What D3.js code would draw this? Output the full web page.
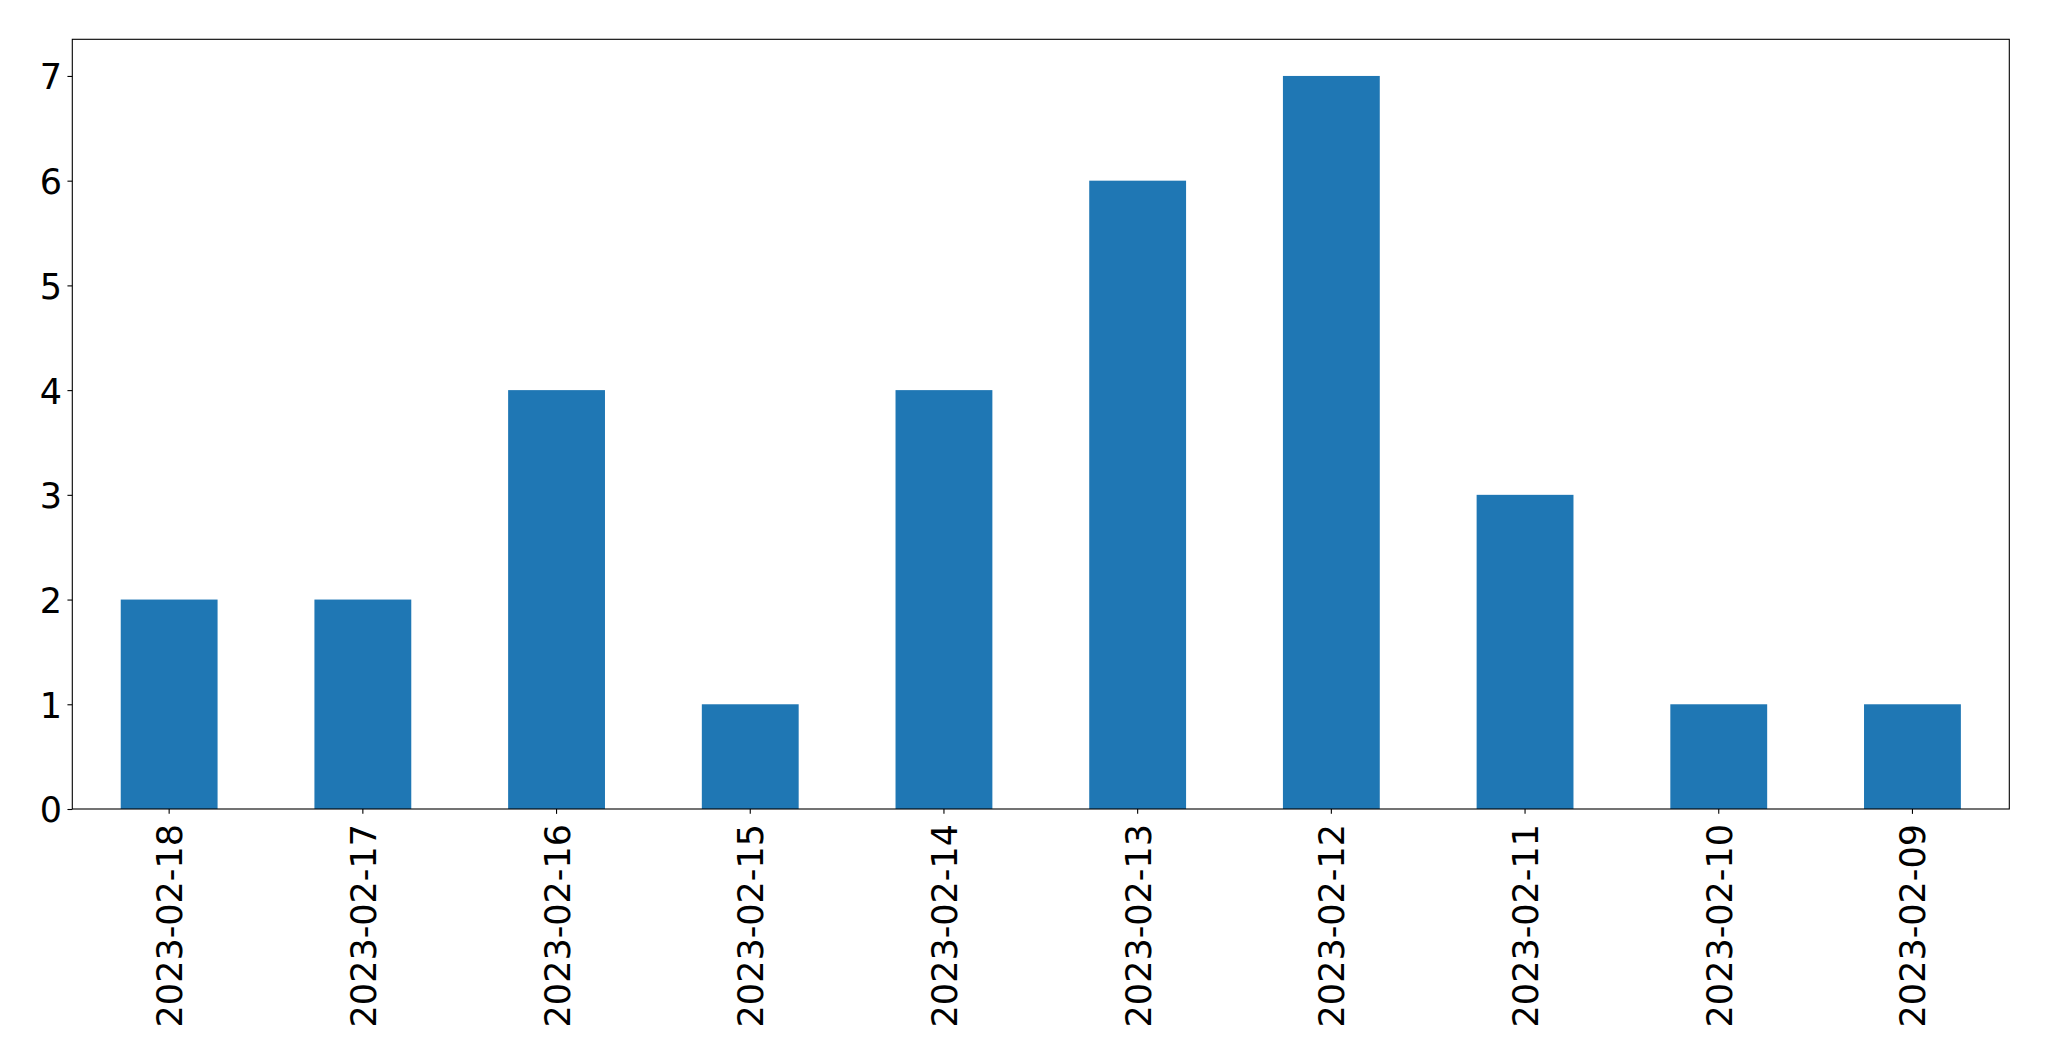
<!DOCTYPE html>
<html>
<head>
<meta charset="utf-8">
<script src="https://cdn.jsdelivr.net/npm/d3@7"></script>
<style>
  html, body { margin: 0; padding: 0; background: #fff; }
  svg { display: block; }
  text { font-family: "DejaVu Sans", sans-serif; fill: #000; }
</style>
</head>
<body>
<svg id="chart" width="2049" height="1061"></svg>
<script>
const categories = ["2023-02-18","2023-02-17","2023-02-16","2023-02-15","2023-02-14","2023-02-13","2023-02-12","2023-02-11","2023-02-10","2023-02-09"];
const values = [2, 2, 4, 1, 4, 6, 7, 3, 1, 1];
const yTicks = [0, 1, 2, 3, 4, 5, 6, 7];

const W = 2049, H = 1061;
const m = { left: 72.3, right: 2049 - 2009.3, top: 39.3, bottom: 1061 - 809 };
const pw = W - m.left - m.right, ph = H - m.top - m.bottom;
const fontSize = 35;
const tickLen = 4.86;

const svg = d3.select("#chart");
const g = svg.append("g").attr("transform", `translate(${m.left},${m.top})`);

const x = d3.scaleBand().domain(categories).range([0, pw]).paddingInner(0.5).paddingOuter(0.25);
const yMax = d3.max(values) * 1.05;
const y = d3.scaleLinear().domain([0, yMax]).range([ph, 0]);

g.selectAll("rect.bar").data(values).enter().append("rect")
  .attr("class", "bar")
  .attr("x", (d, i) => x(categories[i]))
  .attr("width", x.bandwidth())
  .attr("y", d => y(d))
  .attr("height", d => y(0) - y(d))
  .attr("fill", "#1f77b4");

// Y axis
const yAxis = d3.axisLeft(y).tickValues(yTicks).tickSize(tickLen).tickPadding(5.5).tickFormat(d3.format("d"));
const ya = g.append("g").call(yAxis);
ya.select(".domain").remove();
ya.selectAll("line").attr("stroke", "#000").attr("stroke-width", 1.1);
ya.selectAll("text").style("font-size", fontSize + "px").attr("dy", "0.37em").style("font-family", "DejaVu Sans");

// X axis
const xAxis = d3.axisBottom(x).tickSize(tickLen).tickPadding(0);
const xa = g.append("g").attr("transform", `translate(0,${ph})`).call(xAxis);
xa.select(".domain").remove();
xa.selectAll("line").attr("stroke", "#000").attr("stroke-width", 1.1);
xa.selectAll("text")
  .style("font-size", fontSize + "px")
  .style("font-family", "DejaVu Sans")
  .attr("text-anchor", "end")
  .attr("transform", "translate(0,15) rotate(-90)")
  .attr("x", 0).attr("y", 0)
  .attr("dy", "0.37em");

// Frame
g.append("rect").attr("x", 0).attr("y", 0).attr("width", pw).attr("height", ph)
  .attr("fill", "none").attr("stroke", "#000").attr("stroke-width", 1.1);
</script>
</body>
</html>
